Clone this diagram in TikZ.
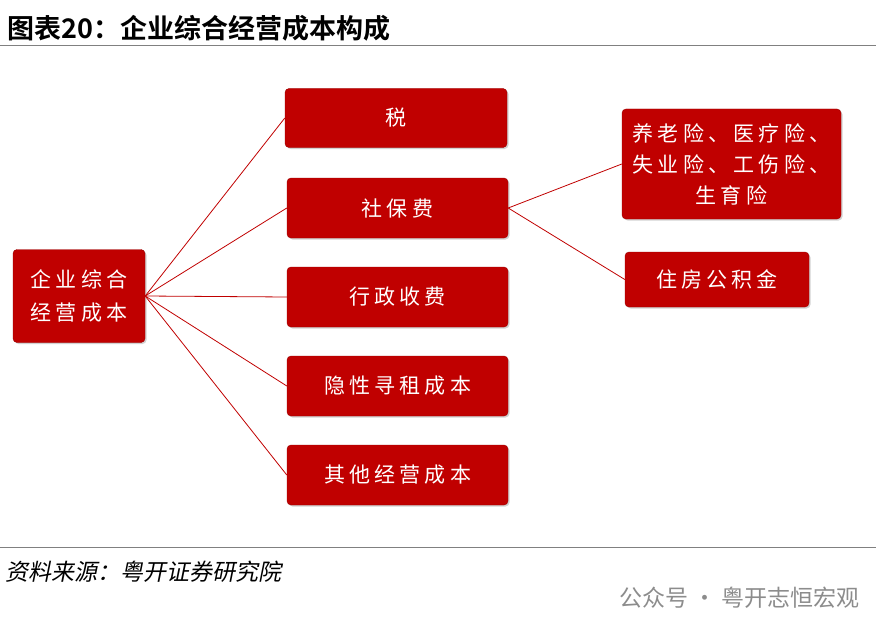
\documentclass[tikz,border=0pt]{standalone}
\usepackage{fontspec}
\newfontfamily\cjk{Noto Sans CJK SC}
\newfontfamily\cjkb{Noto Sans CJK SC Bold}
\newfontfamily\cjks[LetterSpace=20]{Noto Sans CJK SC}
\usetikzlibrary{shadows}
\definecolor{dred}{HTML}{C00000}
\begin{document}
\begin{tikzpicture}[x=1pt,y=-1pt,
 box/.style={draw=dred!80!black,fill=dred,rounded corners=4pt,text=white,font=\cjks\fontsize{21}{31}\selectfont,align=center,inner sep=0pt,drop shadow={shadow xshift=1.5pt,shadow yshift=-1.5pt,fill=black!35}},
 link/.style={draw=dred,line width=0.8pt}]
\useasboundingbox (0,0) rectangle (895,634);
\node[anchor=west,font=\cjkb\fontsize{27}{30}\selectfont] (t) at (4,28) {图表20：企业综合经营成本构成};
\draw[gray,line width=1pt] (0,46) -- (876,46);
\draw[gray,line width=1pt] (0,547) -- (876,547);
\node[anchor=west,font=\cjk\fontsize{23}{26}\selectfont,xslant=0.2] (s) at (4,572) {资料来源：粤开证券研究院};
\node[anchor=west,text=black!45,font=\cjk\fontsize{23}{26}\selectfont] (w) at (616,598) {公众号 · 粤开志恒宏观};
\node[box,minimum width=132pt,minimum height=93pt,font=\cjks\fontsize{21}{33}\selectfont] (a) at (79,296) {企业综合\\经营成本};
\node[box,minimum width=222pt,minimum height=59pt] (b1) at (396,118) {税};
\node[box,minimum width=221pt,minimum height=60pt] (b2) at (397.5,208) {社保费};
\node[box,minimum width=221pt,minimum height=60pt] (b3) at (397.5,297) {行政收费};
\node[box,minimum width=221pt,minimum height=60pt] (b4) at (397.5,386) {隐性寻租成本};
\node[box,minimum width=221pt,minimum height=60pt] (b5) at (397.5,475) {其他经营成本};
\node[box,minimum width=219pt,minimum height=110pt] (c1) at (731.5,164) {养老险、医疗险、\\失业险、工伤险、\\生育险};
\node[box,minimum width=184pt,minimum height=55pt] (c2) at (717,279.5) {住房公积金};
\foreach \b in {b1,b2,b3,b4,b5} \draw[link] (a.east) -- (\b.west);
\draw[link] (b2.east) -- (c1.west);
\draw[link] (b2.east) -- (c2.west);
\end{tikzpicture}
\end{document}
